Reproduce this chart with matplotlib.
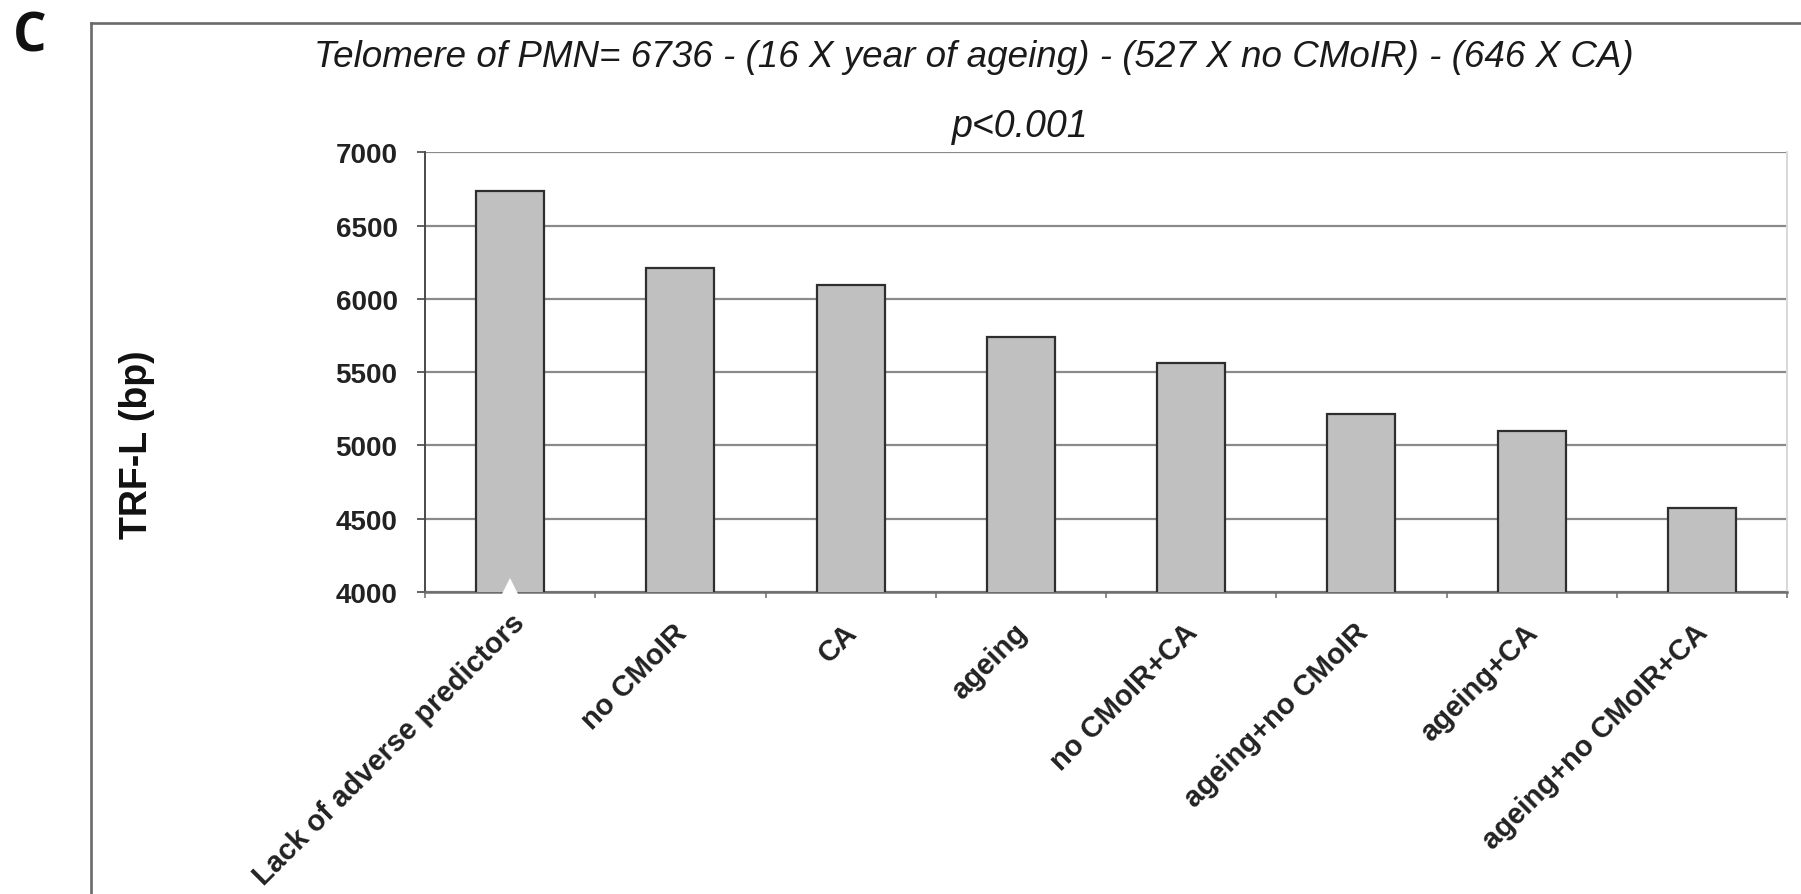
import numpy as np
import matplotlib
matplotlib.use("Agg")
import matplotlib.pyplot as plt
from matplotlib.lines import Line2D

plt.rcParams['font.family'] = ['Liberation Sans', 'DejaVu Sans']

# --- data ---
categories = ['Lack of adverse predictors', 'no CMoIR', 'CA', 'ageing',
              'no CMoIR+CA', 'ageing+no CMoIR', 'ageing+CA', 'ageing+no CMoIR+CA']
trf_length = [6736, 6212, 6092, 5743, 5562, 5216, 5098, 4575]
y_ticks = [4000, 4500, 5000, 5500, 6000, 6500, 7000]

title_text = 'Telomere of PMN= 6736 - (16 X year of ageing) - (527 X no CMoIR) - (646 X CA)'
p_text = 'p<0.001'
y_label = 'TRF-L (bp)'
panel_letter = 'C'

W, H = 1801, 895
fig = plt.figure(figsize=(W / 100, H / 100), dpi=100)

# plot area in pixel coords of the reference
left, right, top, bottom = 425, 1787, 153.3, 593
ax = fig.add_axes([left / W, 1 - bottom / H, (right - left) / W, (bottom - top) / H])

x = np.arange(len(categories))
ax.bar(x, trf_length, width=0.4, color='#c0c0c0', edgecolor='#2e2e2e',
       linewidth=1.6, zorder=3)

ax.set_ylim(y_ticks[0], y_ticks[-1])
ax.set_xlim(-0.5, len(categories) - 0.5)
ax.set_yticks(y_ticks)
ax.set_yticklabels([str(v) for v in y_ticks], fontsize=20, fontweight='bold', color='#222222')
ax.yaxis.grid(True, color='#8a8a8a', linewidth=1.6, zorder=0)
ax.set_axisbelow(True)

# category ticks sit between the bars; labels are placed by hand below
ax.set_xticks(np.arange(-0.5, len(categories)))
ax.set_xticklabels([])
ax.tick_params(axis='x', length=4.5, width=1.2, color='#777777', direction='out')
ax.tick_params(axis='y', length=5.8, width=1.3, color='#555555', pad=14)

# pixel offsets of each rotated label's top-right corner from the bar foot
label_dx = [0, -8, -8, -8, -8, -8, -8, -8]
label_dy = [-16, -26, -26, -26, -26, -26, -26, -26]
for i, name in enumerate(categories):
    ax.annotate(name, xy=(x[i], 0), xycoords=('data', 'axes fraction'),
                xytext=(label_dx[i], label_dy[i]), textcoords='offset pixels',
                rotation=45, ha='right', va='top', rotation_mode='anchor',
                fontsize=21, fontweight='bold', color='#222222', annotation_clip=False)

ax.spines['top'].set_visible(False)
ax.spines['left'].set_color('#4a4a4a')
ax.spines['left'].set_linewidth(1.4)
ax.spines['bottom'].set_color('#6e6e6e')
ax.spines['bottom'].set_linewidth(1.8)
ax.spines['right'].set_color('#d8d8d8')
ax.spines['right'].set_linewidth(1.4)

# white notch at the foot of the first bar
ax.plot([x[0]], [y_ticks[0]], marker='^', markersize=20, color='white',
        markeredgewidth=0, clip_on=False, zorder=6)

# texts
fig.text(974 / W, 1 - 67 / H, title_text, ha='center', va='baseline',
         fontsize=26.5, style='italic', color='#1a1a1a')
fig.text(1020 / W, 1 - 137 / H, p_text, ha='center', va='baseline',
         fontsize=27, style='italic', color='#1a1a1a')
fig.text(137 / W, 1 - 445 / H, y_label, ha='center', va='center', rotation=90,
         fontsize=27, fontweight='bold', color='#111111')
fig.text(30 / W, 1 - 37 / H, panel_letter, ha='center', va='center',
         fontsize=38, fontweight='bold', family=['Open Sans', 'DejaVu Sans'], color='#111111')

# outer frame (runs off the right and bottom edges)
frame_kw = dict(color='#6a6a6a', linewidth=1.9, transform=fig.transFigure)
fig.lines.append(Line2D([91 / W, 1.0], [1 - 24 / H, 1 - 24 / H], **frame_kw))
fig.lines.append(Line2D([91 / W, 91 / W], [1 - 24 / H, 0.0], **frame_kw))

fig.savefig('out.png', dpi=100)
